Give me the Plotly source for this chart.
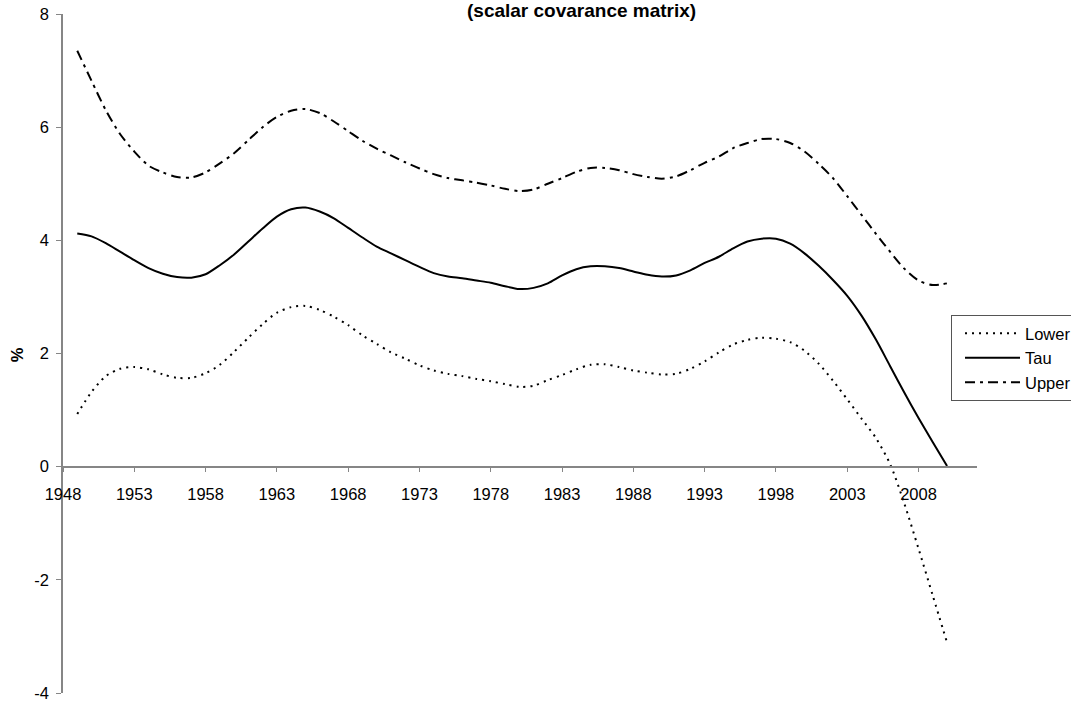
import plotly.graph_objects as go

years = list(range(1949, 2011))

tau = [4.12, 4.07, 3.95, 3.80, 3.65, 3.51, 3.41, 3.35, 3.34, 3.40,
       3.56, 3.75, 3.98, 4.21, 4.42, 4.55, 4.58, 4.51, 4.39, 4.22,
       4.05, 3.89, 3.77, 3.65, 3.53, 3.42, 3.36, 3.33, 3.29, 3.25,
       3.19, 3.14, 3.16, 3.24, 3.38, 3.49, 3.54, 3.54, 3.51, 3.45,
       3.39, 3.36, 3.38, 3.47, 3.60, 3.71, 3.86, 3.98, 4.03, 4.03,
       3.94, 3.77, 3.55, 3.30, 3.02, 2.67, 2.25, 1.78, 1.31, 0.86,
       0.43, 0.01]

upper = [7.35, 6.82, 6.30, 5.88, 5.57, 5.32, 5.20, 5.12, 5.11, 5.20,
         5.36, 5.54, 5.77, 6.00, 6.18, 6.29, 6.32, 6.25, 6.10, 5.93,
         5.76, 5.62, 5.50, 5.38, 5.27, 5.17, 5.10, 5.06, 5.02, 4.97,
         4.91, 4.87, 4.90, 5.00, 5.10, 5.21, 5.28, 5.28, 5.24, 5.17,
         5.12, 5.09, 5.13, 5.24, 5.37, 5.48, 5.63, 5.72, 5.79, 5.79,
         5.72, 5.57, 5.35, 5.10, 4.78, 4.45, 4.12, 3.80, 3.50, 3.29,
         3.21, 3.24]

lower = [0.93, 1.32, 1.60, 1.73, 1.76, 1.72, 1.63, 1.57, 1.57, 1.65,
         1.80, 2.03, 2.28, 2.52, 2.72, 2.82, 2.84, 2.77, 2.65, 2.50,
         2.32, 2.17, 2.02, 1.91, 1.79, 1.70, 1.64, 1.60, 1.55, 1.51,
         1.46, 1.41, 1.43, 1.53, 1.62, 1.72, 1.80, 1.81, 1.76, 1.70,
         1.66, 1.63, 1.64, 1.73, 1.86, 2.02, 2.16, 2.24, 2.28, 2.26,
         2.20, 2.05, 1.82, 1.52, 1.19, 0.85, 0.51, 0.05, -0.65, -1.45,
         -2.28, -3.11]

tick_years = list(range(1948, 2009, 5))
tick_labels = [str(y) for y in tick_years]
y_ticks = [-4, -2, 0, 2, 4, 6, 8]
y_labels = ["-4", "-2", "0", "2", "4", "6", "8"]

FONT = "Arial, Liberation Sans, sans-serif"
AXC = "#868686"

W, H = 1071, 702
L = 62.7
R_EDGE = 977
T = 14
B_EDGE = 693
PW = R_EDGE - L
PH = B_EDGE - T


def px_x(p):
    return (p - L) / PW


def px_y(p):
    return 1 - (p - T) / PH


fig = go.Figure()
fig.add_trace(go.Scatter(x=years, y=lower, name="Lower", mode="lines",
                         line=dict(color="black", width=2, dash="2px,5px",
                                   shape="spline", smoothing=0.8)))
fig.add_trace(go.Scatter(x=years, y=tau, name="Tau", mode="lines",
                         line=dict(color="black", width=2,
                                   shape="spline", smoothing=0.8)))
fig.add_trace(go.Scatter(x=years, y=upper, name="Upper", mode="lines",
                         line=dict(color="black", width=2, dash="10px,5px,3px,5px",
                                   shape="spline", smoothing=0.8)))

fig.update_layout(
    width=W, height=H,
    margin=dict(l=L, r=W - R_EDGE, t=T, b=H - B_EDGE, autoexpand=False),
    paper_bgcolor="white", plot_bgcolor="white",
    font=dict(family=FONT, size=16.5, color="black"),
    showlegend=True,
    legend=dict(x=px_x(951), xanchor="left", y=px_y(315), yanchor="top",
                bordercolor="#555555", borderwidth=1, bgcolor="white",
                font=dict(family=FONT, size=16.5, color="black"),
                tracegroupgap=0, itemwidth=55, indentation=8),
    xaxis=dict(range=[1948, 2012.1], tickmode="array", tickvals=tick_years,
               ticktext=tick_labels, ticks="outside", ticklen=5, tickcolor=AXC,
               showline=True, linecolor=AXC, linewidth=1.5, showgrid=False,
               zeroline=False, anchor="free", position=1/3,
               ticklabelstandoff=8,
               tickfont=dict(family=FONT, size=16.5, color="black")),
    yaxis=dict(range=[-4, 8], tickmode="array", tickvals=y_ticks,
               ticktext=y_labels, ticks="outside", ticklen=5,
               tickcolor=AXC, showline=True, linecolor=AXC, linewidth=1.5,
               showgrid=False, zeroline=False, ticklabelstandoff=4,
               ticklabeloverflow="allow",
               tickfont=dict(family=FONT, size=16.5, color="black")),
)

fig.add_annotation(text="<b>(scalar covarance matrix)</b>", xref="paper", yref="paper",
                   x=px_x(698), xanchor="right", y=px_y(10),
                   yanchor="middle", showarrow=False,
                   font=dict(family=FONT, size=19, color="black"))
fig.add_annotation(text="<b>%</b>", xref="paper", yref="paper",
                   x=px_x(17), xanchor="center", y=px_y(355),
                   yanchor="middle", textangle=-90, showarrow=False,
                   font=dict(family=FONT, size=16.5, color="black"))

fig.write_html("out.html", config={"displayModeBar": False},
               post_script="document.body.style.margin='0px';document.body.style.overflow='hidden';")
